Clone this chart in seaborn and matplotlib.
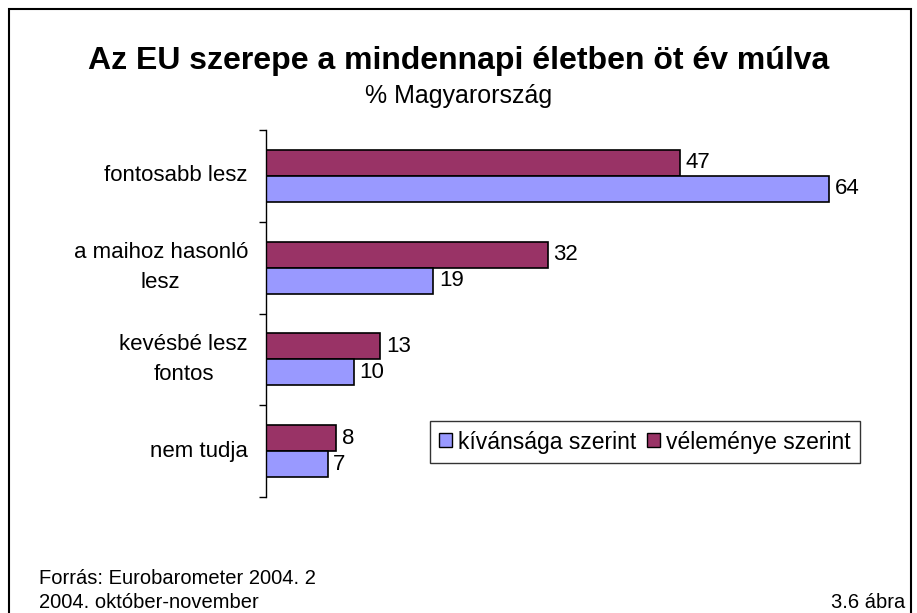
import matplotlib
matplotlib.use("Agg")
import matplotlib.pyplot as plt
import seaborn as sns
import pandas as pd
from matplotlib.patches import Rectangle, Patch

# data
categories = ["fontosabb lesz", "a maihoz hasonló\nlesz", "kevésbé lesz\nfontos", "nem tudja"]
kivansaga = [64, 19, 10, 7]
velemenye = [47, 32, 13, 8]
series_names = ["kívánsága szerint", "véleménye szerint"]
colors = {"kívánsága szerint": "#9999FF", "véleménye szerint": "#993366"}

df = pd.DataFrame({
    "kategoria": categories * 2,
    "ertek": kivansaga + velemenye,
    "sorozat": [series_names[0]] * 4 + [series_names[1]] * 4,
})

sns.set_style("white")
plt.rcParams["font.family"] = ["Liberation Sans", "DejaVu Sans"]
plt.rcParams["text.color"] = "black"
plt.rcParams["ytick.color"] = "black"

fig = plt.figure(figsize=(9.17, 6.13), dpi=100)
ax = fig.add_axes([266 / 917, 1 - 497 / 613, 616 / 917, 367 / 613])

sns.barplot(data=df, y="kategoria", x="ertek", hue="sorozat",
            order=categories, hue_order=[series_names[1], series_names[0]],
            palette=colors, saturation=1, width=0.565, edgecolor="black", linewidth=1.2,
            orient="h", ax=ax, legend=False)

for cont in ax.containers:
    ax.bar_label(cont, padding=4, fontsize=16)

ax.set_xlim(0, 70)
ax.set_ylim(len(categories) - 0.5, -0.5)
ax.set_xlabel("")
ax.set_ylabel("")
ax.set_xticks([])
for s in ["top", "right", "bottom"]:
    ax.spines[s].set_visible(False)
ax.spines["left"].set_color("black")
ax.spines["left"].set_linewidth(1)

# ticks at category boundaries, labels at centres
ax.set_yticks([i - 0.5 for i in range(len(categories) + 1)])
ax.set_yticklabels([])
ax.tick_params(axis="y", which="major", left=True, length=5, width=1, color="black")
ax.set_yticks(range(len(categories)), minor=True)
ax.set_yticklabels(categories, minor=True, fontsize=16, multialignment="center",
                   linespacing=1.6, va="center")
ax.tick_params(axis="y", which="minor", length=0, pad=13)

handles = [Patch(facecolor=colors[n], edgecolor="black", linewidth=1) for n in series_names]
leg = fig.legend(handles, series_names, loc="center", bbox_to_anchor=(645 / 917, 1 - 442 / 613),
                 ncol=2, fontsize=16.5, frameon=True, fancybox=False, handlelength=0.55,
                 handleheight=0.55, handletextpad=0.3, columnspacing=0.45, borderpad=0.4,
                 borderaxespad=0)
leg.get_frame().set_edgecolor("black")
leg.get_frame().set_linewidth(1)

fig.text(0.5, 1 - 61 / 613, "Az EU szerepe a mindennapi életben öt év múlva",
         ha="center", va="center", fontsize=23, fontweight="bold")
fig.text(0.5, 1 - 96 / 613, "% Magyarország", ha="center", va="center", fontsize=18)

fig.text(39 / 917, 1 - 578 / 613, "Forrás: Eurobarometer 2004. 2", ha="left", va="center", fontsize=14.5)
fig.text(39 / 917, 1 - 603 / 613, "2004. október-november", ha="left", va="center", fontsize=14.5)
fig.text(905 / 917, 1 - 603 / 613, "3.6 ábra", ha="right", va="center", fontsize=14.5)

# outer frame
fig.patches.append(Rectangle((9 / 917, -0.05), 902 / 917, 1.05 - 9 / 613, transform=fig.transFigure,
                             fill=False, edgecolor="black", linewidth=1.5))

fig.savefig("out.png", dpi=100)
